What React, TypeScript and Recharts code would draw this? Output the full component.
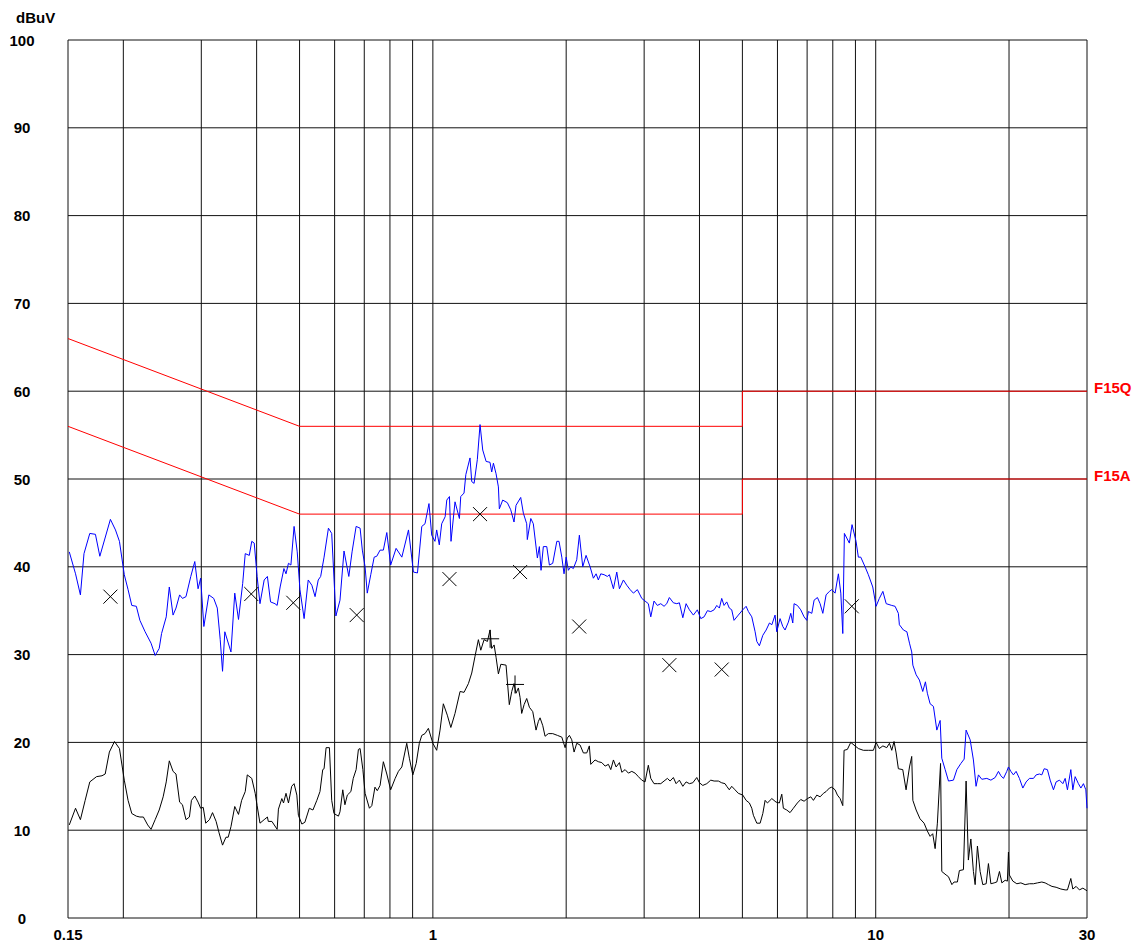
import { ComposedChart, Line, Scatter, XAxis, YAxis, ReferenceLine } from "recharts";

// peak trace (blue), MHz / dBuV
const peakFreq = [
  0.151, 0.156, 0.16, 0.163, 0.168, 0.173, 0.177, 0.187, 0.192, 0.196, 0.201, 0.205, 0.209, 0.214, 0.218, 0.224,
  0.231, 0.236, 0.241, 0.244, 0.25, 0.254, 0.259, 0.263, 0.268, 0.272, 0.277, 0.284, 0.29, 0.295, 0.299, 0.304,
  0.312, 0.32, 0.326, 0.331, 0.335, 0.339, 0.35, 0.357, 0.364, 0.372, 0.377, 0.385, 0.39, 0.395, 0.401, 0.407,
  0.416, 0.423, 0.43, 0.44, 0.445, 0.452, 0.461, 0.466, 0.472, 0.478, 0.486, 0.494, 0.501, 0.512, 0.523, 0.533,
  0.542, 0.551, 0.558, 0.568, 0.581, 0.591, 0.604, 0.617, 0.63, 0.646, 0.657, 0.671, 0.685, 0.693, 0.703, 0.711,
  0.724, 0.737, 0.747, 0.76, 0.773, 0.787, 0.803, 0.826, 0.851, 0.881, 0.904, 0.923, 0.944, 0.96, 0.98, 0.994,
  1.011, 1.02, 1.034, 1.047, 1.066, 1.075, 1.09, 1.099, 1.122, 1.148, 1.156, 1.176, 1.187, 1.213, 1.224, 1.239,
  1.26, 1.278, 1.296, 1.319, 1.346, 1.358, 1.37, 1.389, 1.406, 1.413, 1.438, 1.473, 1.499, 1.525, 1.541, 1.579,
  1.601, 1.629, 1.634, 1.664, 1.686, 1.722, 1.74, 1.755, 1.776, 1.808, 1.833, 1.865, 1.905, 1.927, 1.955, 1.978,
  2.0, 2.023, 2.048, 2.076, 2.113, 2.142, 2.18, 2.218, 2.265, 2.304, 2.337, 2.364, 2.394, 2.436, 2.478, 2.504,
  2.557, 2.602, 2.638, 2.693, 2.741, 2.789, 2.837, 2.896, 2.963, 3.014, 3.066, 3.105, 3.158, 3.213, 3.271, 3.327,
  3.374, 3.42, 3.492, 3.555, 3.603, 3.668, 3.731, 3.796, 3.875, 3.956, 4.027, 4.097, 4.168, 4.242, 4.316, 4.377,
  4.436, 4.49, 4.545, 4.609, 4.671, 4.73, 4.787, 4.895, 5.01, 5.097, 5.159, 5.25, 5.342, 5.389, 5.462, 5.56,
  5.657, 5.755, 5.827, 5.926, 5.978, 6.082, 6.168, 6.242, 6.35, 6.43, 6.497, 6.541, 6.654, 6.772, 6.89, 6.989,
  7.047, 7.173, 7.259, 7.386, 7.489, 7.596, 7.726, 7.86, 7.958, 8.096, 8.236, 8.34, 8.427, 8.497, 8.719, 8.842,
  9.028, 9.137, 9.252, 9.461, 9.624, 9.848, 10.02, 10.19, 10.38, 10.56, 10.87, 11.06, 11.25, 11.31, 11.55, 11.76,
  11.92, 12.06, 12.13, 12.34, 12.55, 12.77, 12.95, 13.08, 13.27, 13.5, 13.74, 13.98, 14.1, 14.35, 14.6, 14.98,
  15.25, 15.57, 15.84, 16.0, 16.34, 16.62, 16.85, 17.06, 17.36, 17.82, 18.2, 18.61, 18.93, 19.17, 19.43, 19.77,
  19.94, 20.19, 20.46, 20.75, 21.11, 21.49, 21.86, 22.24, 22.71, 23.03, 23.43, 23.72, 24.01, 24.42, 24.77, 25.2,
  25.55, 26.0, 26.46, 26.78, 27.1, 27.58, 27.87, 28.21, 28.69, 29.06, 29.45, 29.82, 30.0,
];
const peakLevel = [
  41.7, 39.2, 36.8, 41.5, 43.8, 43.7, 41.2, 45.4, 44.2, 42.9, 39.1, 37.4, 35.6, 35.5, 33.9, 32.6,
  31.3, 29.9, 30.7, 32.4, 34.3, 37.7, 34.5, 35.3, 36.8, 36.4, 36.6, 38.9, 40.6, 37.5, 38.7, 33.2,
  36.8, 36.4, 35.3, 31.7, 28.1, 32.6, 30.3, 37.0, 34.0, 38.1, 41.5, 41.3, 42.9, 42.7, 38.9, 35.8,
  38.5, 38.9, 36.0, 35.8, 35.6, 37.7, 39.8, 39.2, 40.4, 40.2, 44.6, 41.7, 37.4, 34.1, 38.5, 37.9,
  36.6, 38.5, 38.9, 41.1, 44.4, 43.8, 34.4, 36.2, 41.8, 38.9, 41.7, 44.6, 44.4, 41.9, 40.0, 37.0,
  39.1, 41.1, 41.2, 41.9, 41.9, 43.9, 40.2, 42.1, 41.1, 44.2, 39.4, 39.3, 44.6, 44.9, 47.2, 43.6,
  42.9, 44.2, 42.5, 44.9, 45.7, 47.6, 48.0, 42.9, 47.4, 45.5, 48.0, 48.4, 50.5, 52.4, 49.7, 49.5,
  52.2, 56.2, 53.3, 52.0, 51.9, 50.8, 51.8, 50.6, 49.1, 46.6, 47.6, 47.3, 46.5, 45.1, 47.0, 47.9,
  46.1, 44.9, 43.1, 45.5, 44.9, 41.0, 42.3, 39.6, 42.3, 42.3, 40.2, 40.4, 42.9, 42.9, 41.1, 39.2,
  41.1, 39.6, 40.0, 39.8, 40.8, 43.6, 40.0, 41.3, 40.0, 38.7, 39.2, 38.5, 39.2, 39.1, 38.9, 39.1,
  37.5, 39.4, 37.5, 38.5, 37.9, 37.4, 37.0, 37.4, 36.4, 36.1, 35.8, 34.3, 36.1, 35.6, 35.8, 35.5,
  35.8, 36.5, 35.9, 35.8, 35.9, 34.2, 35.8, 35.1, 34.5, 35.1, 34.1, 34.3, 35.0, 34.9, 35.1, 35.6,
  35.3, 36.4, 35.6, 36.0, 35.3, 35.1, 33.9, 34.5, 35.1, 35.5, 34.9, 34.3, 32.6, 31.5, 31.0, 32.2,
  32.8, 33.6, 33.4, 34.5, 32.6, 34.1, 33.2, 32.8, 33.7, 34.7, 33.6, 35.8, 35.6, 35.1, 34.3, 33.9,
  34.9, 34.7, 36.2, 36.5, 35.8, 34.7, 36.8, 37.2, 37.4, 37.0, 39.2, 37.0, 32.4, 43.8, 42.7, 44.8,
  42.9, 41.1, 41.1, 40.0, 39.1, 37.7, 35.5, 36.4, 37.2, 35.8, 35.6, 35.5, 34.7, 33.4, 32.8, 32.6,
  31.3, 30.3, 28.8, 27.7, 27.1, 25.8, 26.9, 25.6, 24.4, 24.1, 21.4, 22.5, 18.2, 16.9, 15.6, 15.7,
  16.9, 17.6, 18.1, 21.4, 20.3, 18.0, 15.0, 16.3, 15.8, 15.9, 15.7, 16.0, 16.7, 16.2, 15.9, 16.7,
  17.2, 16.7, 16.3, 16.7, 15.9, 14.8, 15.5, 15.9, 15.9, 16.3, 16.4, 16.3, 17.0, 16.9, 15.7, 14.6,
  15.5, 15.7, 15.3, 15.9, 14.6, 16.9, 14.6, 16.1, 15.3, 14.8, 15.3, 14.6, 12.5,
];

// average trace (black)
const avgFreq = [
  0.151, 0.156, 0.16, 0.164, 0.168, 0.174, 0.179, 0.182, 0.186, 0.191, 0.196, 0.201, 0.205, 0.209, 0.214, 0.218,
  0.222, 0.227, 0.231, 0.236, 0.241, 0.246, 0.25, 0.254, 0.259, 0.263, 0.268, 0.272, 0.277, 0.282, 0.285, 0.29,
  0.295, 0.299, 0.303, 0.307, 0.313, 0.318, 0.324, 0.329, 0.335, 0.341, 0.345, 0.35, 0.357, 0.364, 0.37, 0.377,
  0.381, 0.39, 0.397, 0.401, 0.407, 0.416, 0.423, 0.425, 0.433, 0.445, 0.448, 0.456, 0.46, 0.466, 0.472, 0.48,
  0.486, 0.493, 0.497, 0.506, 0.514, 0.526, 0.536, 0.547, 0.556, 0.564, 0.568, 0.574, 0.584, 0.591, 0.598, 0.612,
  0.617, 0.626, 0.633, 0.641, 0.653, 0.661, 0.671, 0.679, 0.685, 0.695, 0.703, 0.719, 0.728, 0.74, 0.749, 0.76,
  0.773, 0.787, 0.803, 0.822, 0.836, 0.851, 0.873, 0.885, 0.901, 0.917, 0.932, 0.944, 0.96, 0.977, 1.0, 1.02,
  1.038, 1.056, 1.078, 1.098, 1.122, 1.152, 1.176, 1.203, 1.224, 1.245, 1.267, 1.283, 1.305, 1.328, 1.346, 1.358,
  1.375, 1.389, 1.406, 1.424, 1.463, 1.488, 1.507, 1.525, 1.541, 1.56, 1.574, 1.587, 1.607, 1.629, 1.652, 1.681,
  1.71, 1.731, 1.746, 1.771, 1.792, 1.823, 1.865, 1.911, 1.955, 1.989, 2.012, 2.034, 2.059, 2.084, 2.113, 2.15,
  2.187, 2.226, 2.256, 2.273, 2.324, 2.364, 2.407, 2.449, 2.491, 2.522, 2.557, 2.593, 2.638, 2.671, 2.717, 2.764,
  2.813, 2.862, 2.911, 2.963, 3.014, 3.066, 3.105, 3.158, 3.213, 3.271, 3.327, 3.385, 3.433, 3.492, 3.542, 3.603,
  3.668, 3.731, 3.796, 3.863, 3.944, 4.0, 4.069, 4.155, 4.242, 4.316, 4.413, 4.49, 4.568, 4.609, 4.671, 4.73,
  4.812, 4.895, 5.01, 5.097, 5.185, 5.25, 5.294, 5.389, 5.483, 5.56, 5.627, 5.695, 5.827, 5.956, 6.059, 6.136,
  6.187, 6.297, 6.406, 6.517, 6.654, 6.772, 6.89, 7.011, 7.136, 7.233, 7.362, 7.489, 7.619, 7.726, 7.86, 7.958,
  8.096, 8.194, 8.31, 8.427, 8.483, 8.629, 8.783, 8.934, 9.137, 9.377, 9.624, 9.88, 10.02, 10.19, 10.38, 10.59,
  10.74, 10.87, 11.0, 11.12, 11.25, 11.51, 11.71, 11.92, 12.06, 12.13, 12.34, 12.59, 12.86, 13.08, 13.27, 13.45,
  13.62, 13.78, 14.01, 14.1, 14.42, 14.6, 14.86, 15.03, 15.29, 15.45, 15.78, 16.0, 16.19, 16.4, 16.62, 16.77,
  16.97, 17.21, 17.45, 17.76, 17.97, 18.2, 18.51, 18.77, 19.03, 19.27, 19.6, 19.83, 19.94, 20.04, 20.4, 20.83,
  21.27, 21.75, 22.24, 22.71, 23.19, 23.72, 24.13, 24.55, 25.0, 25.55, 26.19, 26.78, 27.1, 27.58, 27.87, 28.35,
  28.84, 29.36, 30.0,
];
const avgLevel = [
  10.6, 12.5, 11.2, 13.4, 15.5, 16.1, 16.2, 16.4, 18.9, 20.1, 19.3, 15.7, 13.4, 11.9, 11.6, 11.5,
  11.5, 10.6, 10.1, 11.2, 12.3, 13.8, 15.5, 17.9, 16.7, 16.4, 13.2, 12.9, 11.2, 11.5, 13.4, 13.9,
  13.2, 12.5, 12.6, 10.8, 11.2, 12.0, 11.0, 9.7, 8.3, 9.2, 9.2, 10.4, 12.7, 11.8, 13.4, 14.4,
  16.3, 15.9, 14.2, 12.8, 10.8, 11.2, 11.5, 11.0, 11.0, 10.1, 12.4, 13.6, 13.1, 14.2, 13.1, 15.0,
  15.3, 14.0, 11.7, 10.7, 10.9, 12.5, 12.3, 13.4, 14.4, 16.9, 17.0, 19.4, 19.4, 13.4, 11.9, 11.6,
  12.1, 14.6, 12.9, 14.0, 14.4, 15.9, 16.9, 19.2, 19.3, 16.9, 14.2, 12.5, 12.8, 14.9, 14.5, 15.1,
  17.8, 16.4, 14.6, 15.9, 16.7, 17.2, 19.9, 18.2, 16.3, 17.6, 19.9, 20.8, 21.0, 21.6, 19.9, 19.1,
  21.4, 24.4, 23.1, 21.7, 23.3, 25.8, 25.7, 26.7, 27.9, 29.8, 31.7, 30.5, 31.7, 31.5, 32.8, 30.7,
  31.1, 29.7, 27.8, 28.9, 28.8, 24.3, 25.8, 26.7, 25.6, 26.2, 25.1, 23.3, 24.3, 25.0, 24.0, 23.5,
  21.4, 22.4, 22.8, 21.9, 20.7, 21.0, 21.0, 20.8, 20.6, 19.4, 20.5, 20.8, 20.3, 18.9, 19.9, 19.7,
  18.8, 18.8, 19.6, 17.5, 18.0, 17.8, 17.7, 17.3, 17.5, 16.9, 18.0, 17.2, 17.7, 16.6, 16.9, 16.5,
  16.7, 16.5, 16.1, 15.7, 15.5, 17.4, 15.9, 15.3, 15.3, 15.3, 15.6, 15.9, 15.6, 16.0, 15.3, 15.7,
  15.0, 15.5, 15.3, 15.4, 16.0, 15.4, 15.1, 15.3, 15.7, 15.6, 15.6, 15.4, 15.3, 15.0, 14.6, 15.0,
  14.6, 14.2, 14.0, 13.4, 13.1, 12.5, 11.7, 10.8, 10.8, 11.9, 13.4, 13.1, 13.6, 13.2, 13.1, 14.1,
  12.5, 12.3, 12.0, 12.5, 13.1, 13.5, 13.3, 13.6, 13.8, 13.4, 14.0, 13.8, 14.2, 14.4, 14.8, 14.9,
  14.6, 14.0, 13.6, 12.8, 19.1, 19.2, 20.0, 19.7, 19.3, 19.1, 19.1, 19.1, 20.0, 19.3, 19.6, 19.4,
  19.9, 19.1, 20.1, 18.8, 17.0, 16.9, 14.6, 17.2, 18.4, 13.4, 12.3, 11.3, 10.8, 9.9, 9.3, 9.6,
  7.9, 10.8, 17.6, 5.3, 4.9, 4.7, 3.8, 4.1, 4.1, 5.4, 5.5, 15.6, 6.6, 9.0, 5.3, 3.8,
  8.2, 5.3, 3.8, 3.9, 6.2, 3.9, 4.0, 4.1, 5.3, 4.0, 4.3, 4.2, 7.5, 4.9, 4.2, 3.9,
  4.0, 3.8, 3.9, 3.9, 4.0, 4.1, 4.0, 3.8, 3.6, 3.5, 3.3, 3.2, 3.2, 4.5, 3.3, 3.6,
  3.2, 3.4, 3.1,
];

// limit lines
const qpLimitFreq = [0.15, 0.5, 5, 5, 30];
const qpLimitLevel = [66, 56, 56, 60, 60];
const avLimitFreq = [0.15, 0.5, 5, 5, 30];
const avLimitLevel = [56, 46, 46, 50, 50];
const limitNames = ["F15Q", "F15A"];
const limitTagLevel = [60, 50];

// final measurement markers
const qpMarkFreq = [0.187, 0.389, 0.484, 0.673, 1.09, 1.278, 1.574, 2.14, 3.42, 4.49, 8.83];
const qpMarkLevel = [36.6, 36.9, 35.9, 34.5, 38.6, 46.0, 39.4, 33.2, 28.8, 28.3, 35.5];
const avMarkFreq = [1.347, 1.533];
const avMarkLevel = [31.8, 26.6];

const gridFreqs = [0.15, 0.2, 0.3, 0.4, 0.5, 0.6, 0.7, 0.8, 0.9, 1, 2, 3, 4, 5, 6, 7, 8, 9, 10, 20, 30];
const gridLevels = [0, 10, 20, 30, 40, 50, 60, 70, 80, 90, 100];
const xTicks = [0.15, 1, 10, 30];

const pts = (fs: number[], vs: number[]) => fs.map((f, i) => ({ f, v: vs[i] }));

const peakData = pts(peakFreq, peakLevel);
const avgData = pts(avgFreq, avgLevel);
const qpLimit = pts(qpLimitFreq, qpLimitLevel);
const avLimit = pts(avLimitFreq, avLimitLevel);
const qpMarks = pts(qpMarkFreq, qpMarkLevel);
const avMarks = pts(avMarkFreq, avMarkLevel);
const limitTags = limitNames.map((t, i) => ({ f: 30, v: limitTagLevel[i], t }));

const FONT = "'Liberation Sans', Arial, Helvetica, sans-serif";

const YTick = ({ y, payload }: any) => (
  <text x={22} y={y + 5.5} textAnchor="middle" fontFamily={FONT} fontWeight="bold" fontSize={15} fill="#000">
    {payload.value}
  </text>
);

const XTick = ({ x, payload }: any) => (
  <text x={x} y={940} textAnchor="middle" fontFamily={FONT} fontWeight="bold" fontSize={15} fill="#000">
    {payload.value}
  </text>
);

const Cross = ({ cx, cy }: any) => (
  <path d={`M${cx - 7},${cy - 7}L${cx + 7},${cy + 7}M${cx - 7},${cy + 7}L${cx + 7},${cy - 7}`} stroke="#000" strokeWidth={1} fill="none" />
);

const Plus = ({ cx, cy }: any) => (
  <path d={`M${cx - 9},${cy}L${cx + 9},${cy}M${cx},${cy - 9}L${cx},${cy + 9}`} stroke="#000" strokeWidth={1} fill="none" />
);

const Tag = ({ cx, cy, payload }: any) => (
  <text x={cx + 7} y={cy + 2} fontFamily={FONT} fontWeight="bold" fontSize={15} fill="#ff0000">
    {payload.t}
  </text>
);

export default function App() {
  return (
    <div style={{ position: "absolute", left: 0, top: 0, width: 1141, height: 945 }}>
      <div style={{ position: "absolute", left: 16, top: 9, fontFamily: FONT, fontWeight: "bold", fontSize: 15, color: "#000" }}>
        dBuV
      </div>
      <ComposedChart width={1141} height={945} margin={{ top: 40, right: 54, bottom: 0, left: 0 }}>
        <XAxis
          dataKey="f"
          type="number"
          scale="log"
          domain={[0.15, 30]}
          ticks={xTicks}
          tick={<XTick />}
          axisLine={false}
          tickLine={false}
          height={27}
        />
        <YAxis type="number" domain={[0, 100]} ticks={gridLevels} tick={<YTick />} axisLine={false} tickLine={false} width={68} />
        {gridLevels.map((l) => (
          <ReferenceLine key={"h" + l} y={l} stroke="#111" strokeWidth={1} />
        ))}
        {gridFreqs.map((f) => (
          <ReferenceLine key={"v" + f} x={f} stroke="#111" strokeWidth={1} />
        ))}
        <Line data={qpLimit} dataKey="v" stroke="#ff0000" strokeWidth={1} dot={false} isAnimationActive={false} />
        <Line data={avLimit} dataKey="v" stroke="#ff0000" strokeWidth={1} dot={false} isAnimationActive={false} />
        <Line data={peakData} dataKey="v" stroke="#0000ff" strokeWidth={1} dot={false} isAnimationActive={false} />
        <Line data={avgData} dataKey="v" stroke="#000000" strokeWidth={1} dot={false} isAnimationActive={false} />
        <Scatter data={qpMarks} dataKey="v" shape={<Cross />} isAnimationActive={false} />
        <Scatter data={avMarks} dataKey="v" shape={<Plus />} isAnimationActive={false} />
        <Scatter data={limitTags} dataKey="v" shape={<Tag />} isAnimationActive={false} />
      </ComposedChart>
    </div>
  );
}
